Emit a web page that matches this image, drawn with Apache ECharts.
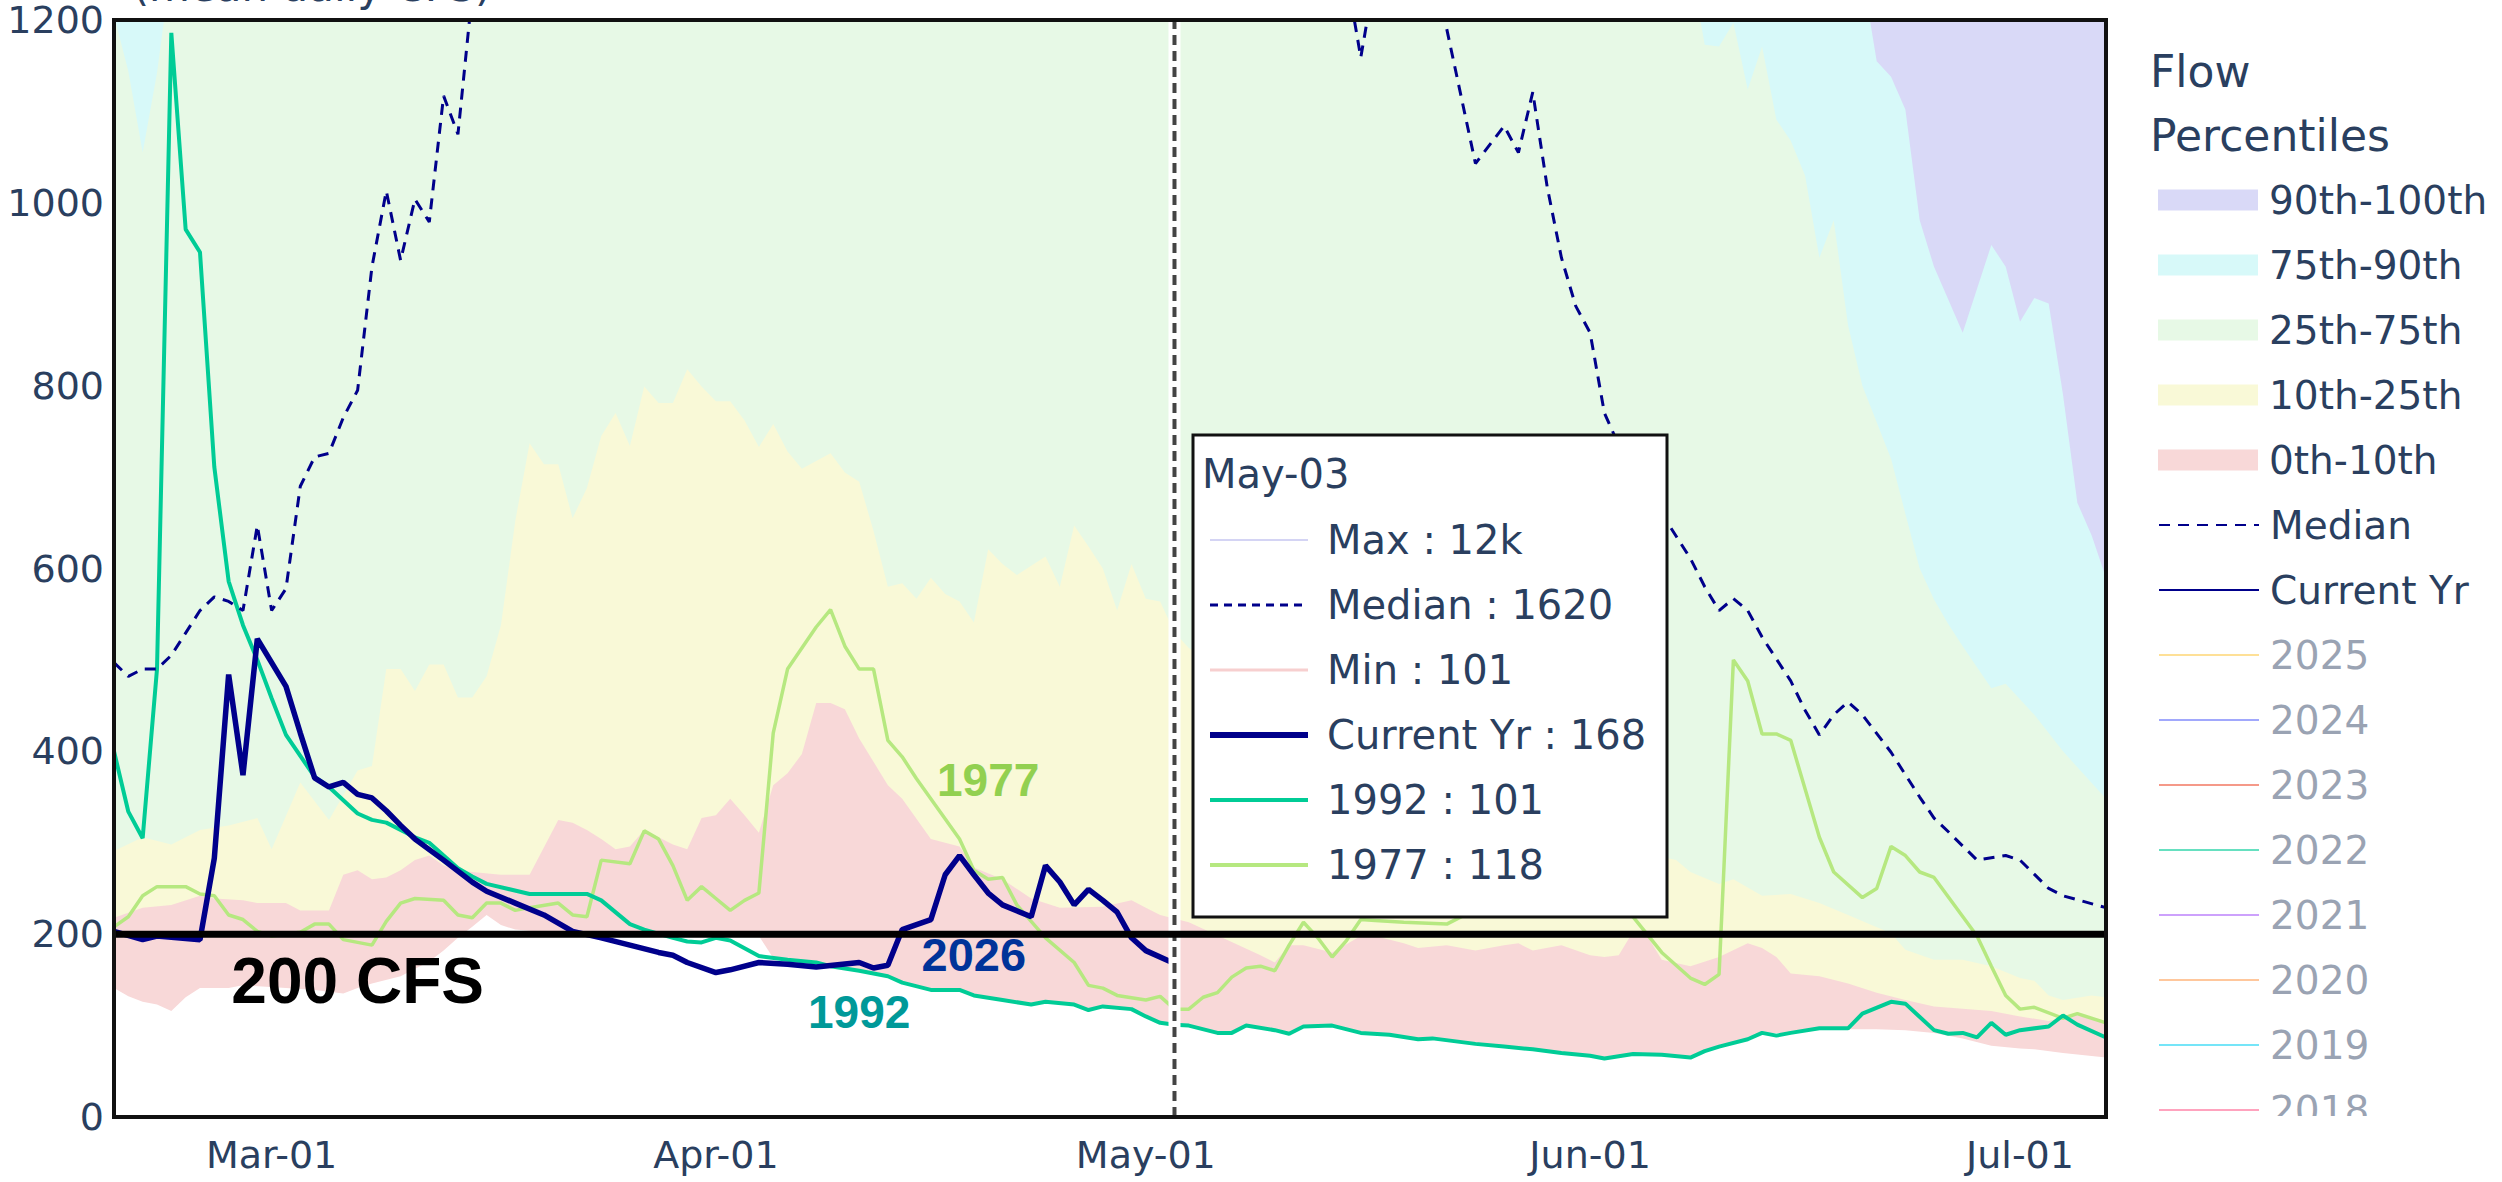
<!DOCTYPE html>
<html>
<head>
<meta charset="utf-8">
<script src="https://cdn.jsdelivr.net/npm/echarts@6/dist/echarts.min.js"></script>
<style>
  html, body { margin: 0; padding: 0; background: #fff; }
  #main { width: 2502px; height: 1182px; }
</style>
</head>
<body>
<div id="main"></div>
<script>
// ---- data (daily mean flow, CFS), dates are MM-DD of the 2026 season ----
var YEAR = 2026;
var START = '02-18', END = '07-07', TODAY = '05-03';
var monthTicks = ['03-01', '04-01', '05-01', '06-01', '07-01'];
var flowThreshold = 200;
var yMax = 1200;

var curDates = ['02-18','02-20','02-21','02-24','02-25','02-26','02-27','02-28','03-01','03-02',
  '03-03','03-04','03-05','03-06','03-07','03-08','03-09','03-10','03-11','03-13',
  '03-15','03-16','03-18','03-20','03-22','03-24','03-26','03-28','03-29','03-30',
  '04-01','04-02','04-04','04-06','04-08','04-11','04-12','04-13','04-14','04-16',
  '04-17','04-18','04-19','04-20','04-21','04-23','04-24','04-25','04-26','04-27',
  '04-28','04-29','04-30','05-01','05-03'];
var curFlow = [203,194,198,194,283,484,374,523,497,471,
  420,371,361,366,353,349,335,319,304,281,
  257,247,234,221,203,196,188,180,177,169,
  158,161,169,167,164,169,163,166,205,216,
  265,286,265,245,232,219,275,257,232,249,
  237,224,196,182,168];

var y1992Dates = ['02-18','02-19','02-20','02-21','02-22','02-23','02-24','02-25','02-26','02-27',
  '02-28','03-01','03-02','03-03','03-04','03-05','03-07','03-08','03-09','03-11',
  '03-12','03-13','03-14','03-15','03-16','03-19','03-23','03-24','03-26','03-27',
  '03-29','03-30','03-31','04-01','04-02','04-04','04-06','04-08','04-09','04-11',
  '04-13','04-14','04-16','04-18','04-19','04-21','04-23','04-24','04-26','04-27',
  '04-28','04-30','05-01','05-02','05-03','05-04','05-06','05-07','05-08','05-10',
  '05-11','05-12','05-14','05-16','05-18','05-20','05-21','05-24','05-26','05-28',
  '05-30','06-01','06-02','06-04','06-06','06-08','06-09','06-10','06-12','06-13',
  '06-14','06-15','06-17','06-19','06-20','06-22','06-23','06-25','06-26','06-27',
  '06-28','06-29','06-30','07-01','07-03','07-04','07-05','07-07'];
var y1992Flow = [400,334,305,490,1186,971,946,711,586,538,
  500,458,418,395,372,361,332,325,322,306,
  300,286,272,263,255,244,244,237,211,205,
  196,192,191,196,193,176,172,169,165,160,
  154,147,139,139,133,128,123,126,123,117,
  121,118,110,103,101,100,92,92,100,95,
  91,99,100,92,90,85,86,80,77,74,
  70,67,64,69,68,65,72,77,85,92,
  89,92,97,97,113,126,124,95,91,92,
  87,103,90,95,99,111,101,87];

var y1977Dates = ['02-18','02-19','02-20','02-21','02-23','02-24','02-25','02-26','02-27','02-28',
  '03-01','03-03','03-04','03-05','03-06','03-08','03-09','03-10','03-11','03-13',
  '03-14','03-15','03-16','03-17','03-18','03-19','03-21','03-22','03-23','03-24',
  '03-26','03-27','03-28','03-29','03-30','03-31','04-01','04-02','04-03','04-04',
  '04-05','04-06','04-08','04-09','04-10','04-11','04-12','04-13','04-14','04-15',
  '04-18','04-19','04-20','04-21','04-22','04-23','04-24','04-26','04-27','04-28',
  '04-29','05-01','05-02','05-03','05-04','05-05','05-06','05-07','05-08','05-09',
  '05-10','05-11','05-12','05-13','05-14','05-15','05-16','05-17','05-19','05-22',
  '05-25','05-29','06-02','06-04','06-06','06-08','06-09','06-10','06-11','06-12',
  '06-13','06-14','06-15','06-17','06-18','06-20','06-21','06-22','06-23','06-24',
  '06-25','06-28','06-29','06-30','07-01','07-02','07-04','07-05','07-07'];
var y1977Flow = [208,219,242,252,252,244,242,221,216,203,
  198,202,211,211,194,188,214,234,239,237,
  221,218,234,234,226,229,234,221,219,281,
  277,313,304,275,237,252,239,226,237,245,
  420,490,536,555,515,490,490,412,394,370,
  304,270,260,262,232,214,196,169,144,141,
  133,128,132,118,118,131,136,153,163,165,
  160,188,213,196,175,193,216,215,213,211,
  235,245,232,219,180,152,145,156,500,477,
  419,419,412,306,268,240,250,296,286,268,
  262,198,165,133,118,120,108,113,103];

var medDates = ['02-18','02-19','02-20','02-21','02-22','02-24','02-25','02-26','02-27','02-28',
  '03-01','03-02','03-03','03-04','03-05','03-06','03-07','03-08','03-09','03-10',
  '03-11','03-12','03-13','03-14','03-15','03-17','03-20','03-25','03-30','04-04',
  '04-09','04-14','04-19','04-24','04-29','05-03','05-07','05-11','05-14','05-15',
  '05-16','05-17','05-19','05-21','05-22','05-24','05-26','05-27','05-28','05-29',
  '05-30','05-31','06-01','06-02','06-04','06-06','06-08','06-09','06-10','06-11',
  '06-12','06-13','06-15','06-16','06-17','06-18','06-19','06-20','06-22','06-24',
  '06-25','06-26','06-28','06-30','07-01','07-03','07-04','07-07'];
var medFlow = [497,482,490,490,505,554,569,564,554,647,
  554,578,690,722,726,765,795,930,1013,937,
  1004,979,1117,1075,1230,1350,1480,1600,1700,1760,
  1800,1820,1760,1700,1650,1620,1520,1400,1290,1250,
  1159,1250,1300,1240,1190,1043,1084,1055,1121,1018,
  940,887,858,770,700,660,611,580,554,567,
  554,525,477,445,418,440,454,440,399,350,
  327,312,281,286,281,250,242,229];

// percentile band edges
var maxDates = ['02-18','03-20','05-03','06-08','07-07'];
var maxFlow = [2600,6500,12000,9000,3500];

var p90Dates = ['02-18','03-10','04-09','05-09','06-08','06-16','06-19','06-20','06-21','06-22',
  '06-23','06-24','06-25','06-27','06-29','06-30','07-01','07-02','07-03','07-04',
  '07-05','07-06','07-07'];
var p90Flow = [1600,3500,5500,4500,2200,1600,1320,1250,1155,1138,
  1102,981,930,858,954,930,870,896,890,790,
  672,636,590];

var p75Dates = ['02-18','02-19','02-20','02-21','02-22','02-28','03-10','03-25','04-09','04-24',
  '05-09','05-24','06-03','06-07','06-08','06-09','06-10','06-11','06-12','06-13',
  '06-14','06-15','06-16','06-17','06-18','06-19','06-20','06-21','06-22','06-23',
  '06-24','06-25','06-26','06-27','06-29','06-30','07-02','07-04','07-07'];
var p75Flow = [1205,1144,1055,1142,1260,1900,2500,3200,3800,3600,
  2900,2000,1450,1300,1260,1173,1171,1197,1124,1171,
  1091,1068,1030,940,981,866,800,760,720,660,
  600,566,539,515,469,474,440,400,348];

var p25Dates = ['02-18','02-20','02-22','02-24','02-26','02-28','03-01','03-03','03-05','03-07',
  '03-08','03-09','03-10','03-11','03-12','03-13','03-14','03-15','03-16','03-17',
  '03-18','03-19','03-20','03-21','03-22','03-23','03-24','03-25','03-26','03-27',
  '03-28','03-29','03-30','03-31','04-01','04-02','04-03','04-04','04-05','04-06',
  '04-07','04-09','04-10','04-11','04-12','04-13','04-14','04-15','04-16','04-17',
  '04-18','04-19','04-20','04-21','04-22','04-23','04-24','04-25','04-26','04-27',
  '04-28','04-29','04-30','05-01','05-02','05-03','05-04','05-09','05-14','05-19',
  '05-24','05-29','06-03','06-07','06-08','06-10','06-11','06-13','06-15','06-17',
  '06-19','06-22','06-23','06-25','06-27','06-29','07-01','07-02','07-03','07-04',
  '07-06','07-07'];
var p25Flow = [291,306,298,314,319,327,293,366,325,379,
  384,490,490,466,495,495,459,459,482,538,
  652,737,714,714,655,688,745,770,734,799,
  781,781,818,799,783,783,762,733,758,728,
  709,726,705,695,641,580,584,567,590,572,
  564,541,621,605,593,603,613,580,647,624,
  600,554,605,567,564,530,513,460,420,380,
  350,320,295,281,268,255,260,242,244,234,
  221,201,183,172,172,165,152,149,133,128,
  133,131];

var p10Dates = ['02-18','02-20','02-22','02-24','02-25','02-27','02-28','03-02','03-03','03-05',
  '03-06','03-07','03-08','03-09','03-10','03-11','03-12','03-13','03-14','03-15',
  '03-17','03-19','03-21','03-22','03-23','03-24','03-25','03-26','03-27','03-28',
  '03-29','03-30','03-31','04-01','04-02','04-03','04-04','04-05','04-06','04-07',
  '04-08','04-09','04-10','04-11','04-13','04-14','04-16','04-18','04-19','04-21',
  '04-23','04-25','04-28','04-30','05-01','05-02','05-04','05-09','05-10','05-11',
  '05-12','05-14','05-16','05-17','05-19','05-20','05-22','05-24','05-26','05-27',
  '05-28','05-30','06-01','06-02','06-03','06-04','06-05','06-06','06-08','06-10',
  '06-12','06-13','06-14','06-15','06-17','06-19','06-21','06-23','06-25','06-29',
  '07-01','07-03','07-05','07-07'];
var p10Flow = [218,229,232,242,239,237,234,234,226,226,
  265,270,260,262,270,281,286,275,270,268,
  265,265,325,322,314,304,293,296,314,306,
  298,293,327,330,348,330,311,363,376,397,
  453,453,446,414,363,348,304,296,273,260,
  239,229,230,237,229,221,213,177,169,188,
  188,180,198,198,190,185,188,182,188,190,
  182,188,177,175,177,203,198,172,165,175,
  190,185,175,157,154,146,136,128,121,116,
  110,105,113,105];

var minDates = ['02-18','02-19','02-20','02-21','02-22','02-23','02-24','02-26','02-27','03-02',
  '03-04','03-06','03-07','03-08','03-10','03-12','03-13','03-14','03-15','03-16',
  '03-17','03-18','03-21','03-25','03-30','04-03','04-04','04-05','04-06','04-08',
  '04-09','04-11','04-13','04-14','04-16','04-18','04-19','04-21','04-23','04-24',
  '04-26','04-27','04-28','04-30','05-01','05-02','05-03','05-04','05-06','05-07',
  '05-08','05-10','05-11','05-12','05-14','05-16','05-18','05-20','05-21','05-24',
  '05-26','05-28','05-30','06-01','06-02','06-04','06-06','06-08','06-09','06-10',
  '06-12','06-13','06-15','06-17','06-19','06-21','06-23','06-25','06-27','06-29',
  '07-01','07-02','07-04','07-07'];
var minFlow = [141,132,126,123,116,131,141,141,144,141,
  139,135,141,146,154,170,182,196,208,221,
  210,205,201,200,200,200,198,174,172,169,
  165,160,154,147,139,139,133,128,123,126,
  123,117,121,118,110,103,101,100,92,92,
  100,95,91,99,100,92,90,85,86,80,
  77,74,70,67,64,69,68,65,72,77,
  85,92,92,97,96,96,95,92,86,78,
  75,74,70,65];

var hiddenYears = ['2025','2024','2023','2022','2021','2020','2019','2018'];
var hiddenColors = ['#FECB52','#636EFA','#EF553B','#00CC96','#AB63FA','#FFA15A','#19D3F3','#FF6692'];

// ---- helpers ----
var FONT = 'DejaVu Sans';
var TXT = '#2a3f5f';
var MONTHS = ['Jan','Feb','Mar','Apr','May','Jun','Jul','Aug','Sep','Oct','Nov','Dec'];
var C = {
  purple: '#d9d9f7', cyan: '#d7f9f9', green: '#e7f9e6', yellow: '#f9f9d7', pink: '#f8d8d8',
  navy: '#00008b', c1992: '#00cc96', c1977: '#b6e880'
};

function ts(md) {
  var p = md.split('-');
  return new Date(YEAR, +p[0] - 1, +p[1]).getTime();
}
function pairs(dates, vals) {
  return dates.map(function (d, i) { return [ts(d), vals[i]]; });
}
function valueAt(dates, vals, md) { return vals[dates.indexOf(md)]; }
function fmtFlow(v) { return v >= 10000 ? Math.round(v / 1000) + 'k' : String(v); }
function fmtDate(v) {
  var d = new Date(v);
  return MONTHS[d.getMonth()] + '-' + String(d.getDate()).padStart(2, '0');
}

function band(name, dates, vals, color, z) {
  return {
    name: name, type: 'line', data: pairs(dates, vals), symbol: 'none', silent: true,
    color: color, lineStyle: { width: 0, color: color }, itemStyle: { color: color },
    areaStyle: { color: color, opacity: 1 }, z: z
  };
}
function flowLine(name, dates, vals, color, width, dash, z) {
  return {
    name: name, type: 'line', data: pairs(dates, vals), symbol: 'none', silent: true,
    color: color, itemStyle: { color: color },
    lineStyle: { color: color, width: width, type: dash || 'solid' }, z: z
  };
}

var series = [
  band('90th-100th', maxDates, maxFlow, C.purple, 1),
  band('75th-90th', p90Dates, p90Flow, C.cyan, 2),
  band('25th-75th', p75Dates, p75Flow, C.green, 3),
  band('10th-25th', p25Dates, p25Flow, C.yellow, 4),
  band('0th-10th', p10Dates, p10Flow, C.pink, 5),
  band('Min', minDates, minFlow, '#ffffff', 6),
  flowLine('1977', y1977Dates, y1977Flow, C.c1977, 3.5, null, 10),
  flowLine('1992', y1992Dates, y1992Flow, C.c1992, 4, null, 11),
  flowLine('Median', medDates, medFlow, C.navy, 3, [11, 8], 12),
  flowLine('Current Yr', curDates, curFlow, C.navy, 5.5, null, 13),
  // hover spike on today (white under-stroke + dark dashes) and the 200 CFS reference
  flowLine('spikeBg', [TODAY, TODAY], [0, yMax], '#ffffff', 12, null, 14),
  flowLine('spike', [TODAY, TODAY], [0, yMax], '#444444', 4, [10, 6], 15),
  flowLine('threshold', [START, END], [flowThreshold, flowThreshold], '#000000', 7, null, 16)
];

hiddenYears.forEach(function (y, i) {
  series.push({
    name: y, type: 'line', data: [], symbol: 'none', color: hiddenColors[i],
    itemStyle: { color: hiddenColors[i] }, lineStyle: { color: hiddenColors[i], width: 3 }
  });
});

var legendText = { fontFamily: FONT, fontSize: 39, lineHeight: 44, color: TXT, padding: [0, 0, 0, 6] };

var option = {
  animation: false,
  backgroundColor: '#ffffff',
  title: {
    text: 'Flow\nPercentiles', left: 2145, top: 34,
    textStyle: { fontFamily: FONT, fontSize: 44, fontWeight: 'normal', color: TXT, lineHeight: 64 }
  },
  grid: {
    left: 114, top: 20, width: 1992, height: 1097, show: true, z: 20,
    borderColor: '#111111', borderWidth: 4, backgroundColor: 'transparent'
  },
  legend: [
    {
      orient: 'vertical', left: 2153, top: 173, itemWidth: 100, itemHeight: 21, itemGap: 21,
      icon: 'rect', selectedMode: false, textStyle: legendText,
      data: ['90th-100th', '75th-90th', '25th-75th', '10th-25th', '0th-10th']
    },
    {
      orient: 'vertical', left: 2153, top: 498, itemWidth: 100, itemHeight: 21, itemGap: 21,
      selectedMode: false, textStyle: legendText, itemStyle: { opacity: 0 },
      data: [{ name: 'Median' }, { name: 'Current Yr' }].concat(hiddenYears.map(function (y) {
        return { name: y, textStyle: { color: '#9aa3b3' }, lineStyle: { opacity: 0.6 } };
      }))
    }
  ],
  xAxis: {
    type: 'value', min: ts(START), max: ts(END), scale: true,
    axisLine: { show: false }, axisTick: { show: false }, splitLine: { show: false },
    axisLabel: {
      customValues: monthTicks.map(ts), formatter: fmtDate, hideOverlap: false,
      fontFamily: FONT, fontSize: 38, color: TXT, margin: 18, lineHeight: 40
    }
  },
  yAxis: {
    type: 'value', min: 0, max: yMax, interval: 200,
    axisLine: { show: false }, axisTick: { show: false }, splitLine: { show: false },
    axisLabel: {
      fontFamily: FONT, fontSize: 38, color: TXT, margin: 10,
      formatter: function (v) { return String(v); }
    }
  },
  series: series
};

var chart = echarts.init(document.getElementById('main'), null, { renderer: 'svg' });
chart.setOption(option);

// ---- overlays: annotations, hover box, clipped legend tail ----
var notes = [
  { text: '200 CFS', at: ['03-07', 149], size: 64, color: '#000000' },
  { text: '1977', at: ['04-20', 369], size: 46, color: '#92d050' },
  { text: '2026', at: ['04-19', 178], size: 47, color: '#003399' },
  { text: '1992', at: ['04-11', 115], size: 46, color: '#009999' }
];
var graphics = notes.map(function (n) {
  var p = chart.convertToPixel({ gridIndex: 0 }, [ts(n.at[0]), n.at[1]]);
  return {
    type: 'text', x: p[0], y: p[1], z: 25, silent: true,
    style: {
      text: n.text, fill: n.color, align: 'center', verticalAlign: 'middle',
      font: 'bold ' + n.size + 'px "Liberation Sans", Arial, sans-serif'
    }
  };
});

var rows = [
  { label: 'Max', v: valueAt(maxDates, maxFlow, TODAY), color: '#d4d4f4', w: 2 },
  { label: 'Median', v: valueAt(medDates, medFlow, TODAY), color: C.navy, w: 3, dash: [8, 6] },
  { label: 'Min', v: valueAt(minDates, minFlow, TODAY), color: '#f7cfcf', w: 3 },
  { label: 'Current Yr', v: valueAt(curDates, curFlow, TODAY), color: C.navy, w: 6 },
  { label: '1992', v: valueAt(y1992Dates, y1992Flow, TODAY), color: C.c1992, w: 4 },
  { label: '1977', v: valueAt(y1977Dates, y1977Flow, TODAY), color: C.c1977, w: 4 }
];
var boxX = 1193, boxY = 435;
graphics.push({ type: 'rect', z: 30, silent: true,
  shape: { x: boxX, y: boxY, width: 474, height: 482 },
  style: { fill: '#ffffff', stroke: '#111111', lineWidth: 3 } });
graphics.push({ type: 'text', z: 31, silent: true, x: boxX + 9, y: boxY + 39,
  style: { text: fmtDate(ts(TODAY)), fill: TXT, verticalAlign: 'middle', font: '40px "DejaVu Sans"' } });
rows.forEach(function (r, i) {
  var cy = boxY + 105 + 65 * i;
  var sw = { stroke: r.color, lineWidth: r.w };
  if (r.dash) sw.lineDash = r.dash;
  graphics.push({ type: 'line', z: 31, silent: true,
    shape: { x1: boxX + 17, y1: cy, x2: boxX + 115, y2: cy }, style: sw });
  graphics.push({ type: 'text', z: 31, silent: true, x: boxX + 134, y: cy,
    style: { text: r.label + ' : ' + fmtFlow(r.v), fill: TXT, verticalAlign: 'middle', font: '40px "DejaVu Sans"' } });
});

// y axis title, mostly above the top edge
graphics.push({ type: 'text', x: 312, y: -14, z: 25, silent: true,
  style: { text: '(mean daily CFS)', fill: TXT, align: 'center', verticalAlign: 'middle', font: '42px "DejaVu Sans"' } });
// legend is cut off at the bottom
graphics.push({ type: 'rect', z: 100, silent: true, shape: { x: 2130, y: 1116, width: 372, height: 66 },
  style: { fill: '#ffffff' } });

chart.setOption({ graphic: graphics });
</script>
</body>
</html>
